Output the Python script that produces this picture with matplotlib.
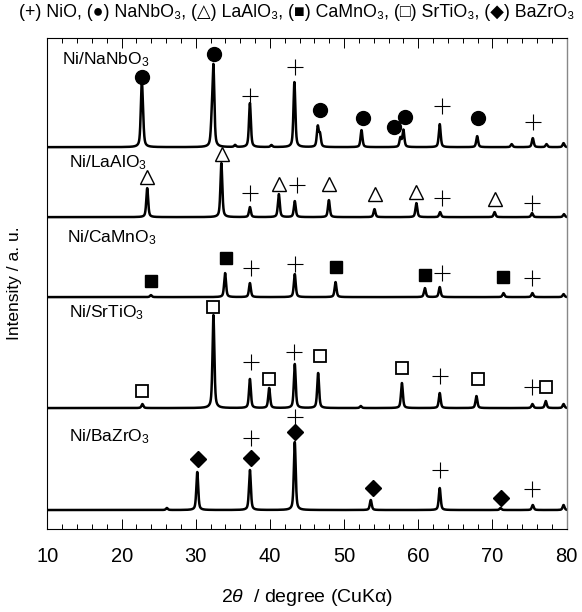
import numpy as np
import matplotlib.pyplot as plt

plt.rcParams['font.family'] = ['Liberation Sans', 'DejaVu Sans']
plt.rcParams['mathtext.fontset'] = 'custom'
plt.rcParams['mathtext.rm'] = 'Liberation Sans'
plt.rcParams['mathtext.it'] = 'Liberation Sans:italic'

# peak positions (2theta) and heights (a.u.)
nanbo3_pos = [22.7, 22.85, 32.15, 32.38, 35.3, 37.3, 40.2, 43.3, 46.45, 46.75, 52.35, 57.6, 58.0, 62.9, 67.95, 72.6, 75.45, 77.3, 79.6]
nanbo3_h = [56, 20, 20, 78, 2, 44, 2, 65, 20, 12, 17, 9, 17, 23, 11, 3, 9, 3, 4]
laalo3_pos = [23.45, 33.45, 37.3, 41.2, 43.35, 47.95, 54.1, 59.75, 62.95, 70.3, 75.35, 79.65]
laalo3_h = [29, 54, 10, 23, 16, 17, 8, 14, 5, 5, 4, 3]
camno3_pos = [23.95, 33.95, 37.3, 43.35, 48.85, 60.9, 62.9, 71.5, 75.4, 79.6]
camno3_h = [2, 24, 14, 23, 15, 9, 10, 4, 4, 3]
srtio3_pos = [22.8, 32.38, 37.3, 39.9, 43.35, 46.5, 52.25, 57.8, 62.9, 67.85, 75.4, 77.2, 79.6]
srtio3_h = [4, 93, 29, 20, 44, 35, 2, 25, 15, 12, 4, 7, 4]
bazro3_pos = [26.1, 30.2, 37.3, 43.35, 53.6, 62.9, 71.1, 75.45, 79.6]
bazro3_h = [2, 38, 40, 68, 10, 22, 2, 5, 5]

# vertical offsets of the stacked patterns
names = ['Ni/NaNbO$_3$', 'Ni/LaAlO$_3$', 'Ni/CaMnO$_3$', 'Ni/SrTiO$_3$', 'Ni/BaZrO$_3$']
offsets = [382, 312, 232, 121, 19]
label_y = [470, 366, 291, 216, 92]
label_x = [12.0, 12.9, 12.6, 12.9, 12.9]

# phase markers: (2theta, height above baseline)
nio_marks = [
    [(37.3, 51), (43.35, 80), (63.2, 41), (75.5, 25)],
    [(37.3, 24), (43.6, 32), (63.2, 19), (75.3, 14)],
    [(37.4, 29), (43.4, 33), (63.2, 24), (75.4, 19)],
    [(37.4, 46), (43.3, 56), (63.0, 32), (75.3, 21)],
    [(37.4, 72), (43.35, 93), (62.9, 40), (75.4, 21)],
]
nanbo3_marks = [(22.7, 70), (32.4, 93), (46.7, 37), (52.55, 29), (56.8, 20), (58.2, 30), (68.05, 29)]
laalo3_marks = [(23.45, 40), (33.5, 63), (41.2, 33), (48.0, 33), (54.2, 23), (59.7, 25), (70.3, 18)]
camno3_marks = [(23.95, 16), (34.1, 39), (48.95, 30), (60.9, 22), (71.5, 20)]
srtio3_marks = [(22.8, 17), (32.35, 101), (39.9, 29), (46.7, 52), (57.85, 40), (68.05, 29), (77.3, 21)]
bazro3_marks = [(30.3, 51), (37.4, 52), (43.35, 78), (53.85, 22), (71.1, 12)]

xticks = [10, 20, 30, 40, 50, 60, 70, 80]

pos_all = [nanbo3_pos, laalo3_pos, camno3_pos, srtio3_pos, bazro3_pos]
h_all = [nanbo3_h, laalo3_h, camno3_h, srtio3_h, bazro3_h]

tt = np.arange(10, 80.001, 0.01)


def pattern(pos, h, w=0.15, eta=0.55):
    y = np.zeros_like(tt)
    for p, a in zip(pos, h):
        d = (tt - p) / w
        y += a * (eta / (1 + d**2) + (1 - eta) * np.exp(-np.log(2) * d**2))
    return y


fig = plt.figure(figsize=(5.82, 6.12), dpi=100)
ax = fig.add_axes([0.0816, 0.1356, 0.8918, 0.8020])

for pos, h, off in zip(pos_all, h_all, offsets):
    ax.plot(tt, pattern(pos, h) + off, color='black', lw=1.8)

for nm, x, y in zip(names, label_x, label_y):
    ax.text(x, y, nm, fontsize=12.5, va='center', ha='left')

mk = dict(ls='none', color='black', clip_on=False)
for marks, off in zip(nio_marks, offsets):
    ax.plot([m[0] for m in marks], [m[1] + off for m in marks], marker='+', ms=12, mew=0.8, **mk)
ax.plot([m[0] for m in nanbo3_marks], [m[1] + offsets[0] for m in nanbo3_marks], marker='o', ms=10, **mk)
ax.plot([m[0] for m in laalo3_marks], [m[1] + offsets[1] for m in laalo3_marks], marker='^', ms=10,
        mfc='white', mew=1.0, **mk)
ax.plot([m[0] for m in camno3_marks], [m[1] + offsets[2] for m in camno3_marks], marker='s', ms=8, **mk)
ax.plot([m[0] for m in srtio3_marks], [m[1] + offsets[3] for m in srtio3_marks], marker='s', ms=9,
        mfc='white', mew=1.3, **mk)
ax.plot([m[0] for m in bazro3_marks], [m[1] + offsets[4] for m in bazro3_marks], marker='D', ms=8.5, **mk)

ax.set_xlim(10, 80)
ax.set_ylim(0, 491)
ax.set_xticks(xticks)
ax.set_xticks(np.arange(10, 81, 2), minor=True)
ax.set_yticks([])
ax.tick_params(axis='x', which='both', direction='in', top=True, width=0.7, labelsize=14.5, pad=13)
ax.tick_params(axis='x', which='major', length=7.2)
ax.tick_params(axis='x', which='minor', length=3.6)
for s in ['left', 'bottom', 'top']:
    ax.spines[s].set_linewidth(0.8)
ax.spines['right'].set_color('#888888')
ax.spines['right'].set_linewidth(1.0)

ax.set_xlabel(r'2$\theta$  / degree (CuKα)', fontsize=14, labelpad=15)
ax.set_ylabel('Intensity / a. u.', fontsize=12.5, labelpad=18)
fig.text(0.51, 0.98, '(+) NiO, (●) NaNbO₃, (△) LaAlO₃, (■) CaMnO₃, (□) SrTiO₃, (◆) BaZrO₃',
         fontsize=12.8, ha='center', va='center')

fig.savefig('out.png', dpi=100)
